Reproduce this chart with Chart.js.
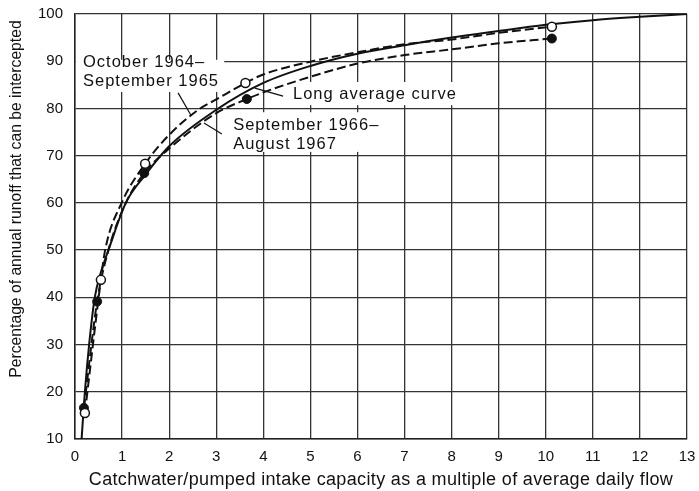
<!DOCTYPE html>
<html>
<head>
<meta charset="utf-8">
<script src="https://cdn.jsdelivr.net/npm/chart.js@4/dist/chart.umd.min.js"></script>
<style>
  body { margin: 0; background: #fff; }
  canvas { display: block; }
</style>
</head>
<body>
<canvas id="chart" width="699" height="491"></canvas>
<script>
// axis ticks
const xTicks = [0, 1, 2, 3, 4, 5, 6, 7, 8, 9, 10, 11, 12, 13];
const yTicks = [10, 20, 30, 40, 50, 60, 70, 80, 90, 100];

const xTitle = 'Catchwater/pumped intake capacity as a multiple of average daily flow';
const yTitle = 'Percentage of annual runoff that can be intercepted';

// long average curve
const avgX = [0.14, 0.21, 0.30, 0.42, 0.55, 0.71, 1.08, 1.5, 2, 3, 4, 5, 6, 7, 8, 9, 10, 11, 12, 13];
const avgY = [10, 20, 30, 40, 45.3, 50, 60, 66, 72, 79.7, 85.4, 89.0, 91.6, 93.4, 95, 96.4, 97.7, 98.7, 99.4, 100];

// October 1964 - September 1965 (open circles)
const octPtsX = [0.21, 0.55, 1.49, 3.62, 10.13];
const octPtsY = [15.5, 43.7, 68.3, 85.4, 97.3];
const octX = [0.21, 0.55, 0.64, 0.99, 1.49, 2, 2.66, 3, 3.62, 4, 5, 6, 7, 8, 9, 10.13];
const octY = [15.5, 43.7, 50, 60, 68.3, 74.4, 80, 81.9, 85.4, 87.2, 89.9, 91.9, 93.6, 94.6, 96.0, 97.3];

// September 1966 - August 1967 (filled circles)
const sepPtsX = [0.19, 0.47, 1.47, 3.65, 10.13];
const sepPtsY = [16.6, 39.1, 66.3, 82, 94.8];
const sepX = [0.19, 0.47, 0.71, 1.08, 1.47, 2, 3, 3.65, 4, 5, 6, 7, 8, 9, 10.13];
const sepY = [16.6, 39.1, 50, 60, 66.3, 71.5, 79, 82, 83.4, 86.7, 89.5, 91.3, 92.5, 93.8, 94.8];

function pts(xs, ys) {
  return xs.map((x, i) => ({ x: x, y: ys[i] }));
}

const FONT = '"Liberation Sans", Arial, Helvetica, sans-serif';

// labels on the plot, in axis units
const notes = [
  { lines: ['October 1964\u2013', 'September 1965'], x: 0.17, y: 89.7,
    box: [0.02, 90.3, 3.17, 83.5], leader: [[2.19, 83.3], [2.46, 78.6]] },
  { lines: ['Long average curve'], x: 4.63, y: 83.0,
    box: [4.46, 85.6, 8.18, 80.7], leader: [[4.42, 82.6], [3.82, 84.3]] },
  { lines: ['September 1966\u2013', 'August 1967'], x: 3.36, y: 76.4,
    box: [3.25, 79.2, 6.37, 70.8], leader: [[3.12, 74.6], [2.74, 76.9]] }
];

const notesPlugin = {
  id: 'notes',
  beforeDatasetsDraw(chart) {
    const ctx = chart.ctx, sx = chart.scales.x, sy = chart.scales.y;
    ctx.save();
    ctx.fillStyle = '#fff';
    notes.forEach(n => {
      const x0 = sx.getPixelForValue(n.box[0]), y0 = sy.getPixelForValue(n.box[1]);
      const x1 = sx.getPixelForValue(n.box[2]), y1 = sy.getPixelForValue(n.box[3]);
      ctx.fillRect(x0, y0, x1 - x0, y1 - y0);
    });
    ctx.restore();
  },
  afterDatasetsDraw(chart) {
    const ctx = chart.ctx, sx = chart.scales.x, sy = chart.scales.y;
    const area = chart.chartArea;
    ctx.save();
    ctx.strokeStyle = '#111';
    ctx.lineWidth = 1.2;
    ctx.fillStyle = '#111';
    ctx.font = '16.5px ' + FONT;
    ctx.letterSpacing = '1px';
    ctx.textBaseline = 'middle';
    notes.forEach(n => {
      ctx.beginPath();
      n.leader.forEach((p, i) => {
        const px = sx.getPixelForValue(p[0]), py = sy.getPixelForValue(p[1]);
        if (i === 0) ctx.moveTo(px, py); else ctx.lineTo(px, py);
      });
      ctx.stroke();
      const tx = sx.getPixelForValue(n.x), ty = sy.getPixelForValue(n.y);
      n.lines.forEach((line, i) => ctx.fillText(line, tx, ty + i * 19));
    });

    // axis titles
    ctx.textAlign = 'center';
    ctx.font = '18px ' + FONT;
    ctx.letterSpacing = '0.35px';
    ctx.fillText(xTitle, (area.left + area.right) / 2, 480);
    ctx.translate(17, 199);
    ctx.rotate(-Math.PI / 2);
    ctx.font = '15.7px ' + FONT;
    ctx.letterSpacing = '0px';
    ctx.fillText(yTitle, 0, 0);
    ctx.restore();
  }
};

const curve = { showLine: true, pointRadius: 0, borderColor: '#111', borderWidth: 2,
  cubicInterpolationMode: 'monotone', fill: false };

new Chart(document.getElementById('chart'), {
  type: 'scatter',
  data: {
    datasets: [
      { data: pts(octPtsX, octPtsY), pointRadius: 4.5, pointBackgroundColor: '#fff',
        pointBorderColor: '#111', pointBorderWidth: 1.5, showLine: false },
      { data: pts(sepPtsX, sepPtsY), pointRadius: 4.5, pointBackgroundColor: '#111',
        pointBorderColor: '#111', pointBorderWidth: 1, showLine: false },
      Object.assign({ data: pts(avgX, avgY) }, curve),
      Object.assign({ data: pts(octX, octY), borderDash: [9, 4] }, curve),
      Object.assign({ data: pts(sepX, sepY), borderDash: [9, 4] }, curve)
    ]
  },
  options: {
    responsive: false,
    animation: false,
    devicePixelRatio: 1,
    layout: { padding: { top: 14, right: 12, left: 0, bottom: 0 } },
    plugins: { legend: { display: false }, tooltip: { enabled: false } },
    scales: {
      x: {
        type: 'linear', min: 0, max: 13,
        afterBuildTicks: s => { s.ticks = xTicks.map(v => ({ value: v })); },
        afterFit: s => { s.height = 52; s.paddingLeft = 0; s.paddingRight = 0; },
        grid: { color: '#333', lineWidth: 1.3, drawTicks: false },
        border: { color: '#222', width: 1.5 },
        ticks: { color: '#111', font: { family: FONT, size: 15 }, padding: 9 },
        title: { display: false, text: xTitle }
      },
      y: {
        type: 'linear', min: 10, max: 100,
        afterBuildTicks: s => { s.ticks = yTicks.map(v => ({ value: v })); },
        afterFit: s => { s.width = 75; s.paddingTop = 0; s.paddingBottom = 0; },
        grid: { color: '#333', lineWidth: 1.3, drawTicks: false },
        border: { color: '#222', width: 1.5 },
        ticks: { color: '#111', font: { family: FONT, size: 15 }, padding: 12 },
        title: { display: false, text: yTitle }
      }
    }
  },
  plugins: [notesPlugin]
});
</script>
</body>
</html>
